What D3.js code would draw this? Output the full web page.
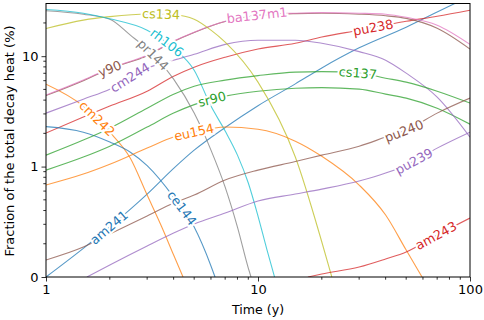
<!DOCTYPE html>
<html>
<head>
<meta charset="utf-8">
<script src="https://cdn.jsdelivr.net/npm/d3@7"></script>
<style>
  body { margin: 0; background: #fff; }
  svg { display: block; font-family: "DejaVu Sans", sans-serif; }
</style>
</head>
<body>
<svg id="chart" width="484" height="320"></svg>
<script>
// decay heat fraction (%) vs time (y)
var am241   = [[1,0],[1.5,0.259],[2,0.455],[3,0.751],[4,0.984],[5,1.41],[7,2.26],[10,3.56],[15,5.61],[20,7.83],[30,11.9],[50,18.3],[70,25.1],[100,35]];
var cm242   = [[1,5.58],[1.5,3.53],[2,2.05],[2.5,1.19],[3,0.742],[3.5,0.462],[4,0.199],[4.43,0]];
var sr90    = [[1,0.968],[1.5,1.22],[2,1.53],[3,2.28],[4,3.05],[5,3.64],[7,4.35],[10,4.82],[15,5.13],[20,5.19],[30,5.03],[40,4.53],[50,4.17],[70,3.38],[100,2.42]];
var pu238   = [[1,2.01],[1.5,2.81],[2,3.53],[3,4.82],[4,6.59],[5,7.95],[7,9.78],[10,11.6],[15,13.1],[20,14.9],[30,17.2],[40,19.1],[50,20.7],[70,23.0],[100,26.1]];
var cm244   = [[1,3.05],[1.5,4.08],[2,5.03],[3,7.79],[4,9.2],[5,10.4],[7,12.8],[10,13.96],[15,13.96],[20,13.1],[30,11.0],[40,9.2],[50,7.02],[70,4.26],[100,1.85]];
var y90     = [[1,4.4],[1.5,6.0],[2,7.7],[3,10.1],[4,13.6],[5,16.4],[7,20.6],[10,23.3],[15,24.3],[20,24.5],[30,24.0],[40,23.2],[50,22.0],[70,17.9],[100,11.6]];
var ba137m1 = [[1,4.44],[1.5,6.07],[2,7.79],[3,10.2],[4,13.7],[5,16.5],[7,20.7],[10,23.5],[15,24.5],[20,24.8],[30,24.5],[40,24.0],[50,22.5],[70,19.1],[100,12.8]];
var pr144   = [[1,25.8],[1.5,24.0],[2,21.6],[2.5,15.5],[3,11.6],[4,6.19],[5,3.05],[6,1.41],[7,0.814],[8,0.452],[9,0.081],[9.27,0]];
var cs134   = [[1,17.8],[1.5,21.2],[2,22.8],[3,24.1],[4,23.7],[5,21.6],[6,17.2],[7,13.4],[10,5.82],[15,1.22],[20,0.317],[22.3,0]];
var rh106   = [[1,26.5],[1.5,24.5],[2,21.8],[3,17.2],[4,11.8],[5,7.47],[6,3.53],[7,2.10],[8,1.27],[9,0.851],[10,0.552],[11,0.253],[11.97,0]];
var ce144   = [[1,2.30],[1.5,2.05],[2,1.67],[2.5,1.35],[3,1.02],[4,0.724],[5,0.452],[6,0.10],[6.27,0]];
var eu154   = [[1,0.833],[1.5,0.932],[2,1.05],[3,1.47],[4,1.85],[5,2.05],[7,2.28],[10,2.18],[15,1.70],[20,1.24],[30,0.833],[40,0.561],[50,0.244],[59.4,0]];
var cs137   = [[1,1.27],[1.5,1.74],[2,2.23],[3,3.38],[4,4.53],[5,5.35],[7,6.07],[10,6.66],[15,7.17],[20,7.24],[30,7.02],[40,6.32],[50,5.82],[70,4.82],[100,3.76]];
var am243   = [[17.2,0],[20,0.027],[30,0.09],[40,0.163],[50,0.226],[70,0.38],[100,0.534]];
var pu239   = [[1.56,0],[2,0.109],[3,0.281],[4,0.398],[5,0.48],[7,0.579],[10,0.688],[15,0.751],[20,0.796],[30,0.869],[40,0.941],[50,1.03],[70,1.47],[100,2.05]];
var pu240   = [[1,0.154],[1.5,0.271],[2,0.389],[3,0.552],[4,0.670],[5,0.742],[7,0.878],[10,0.968],[15,1.11],[20,1.27],[30,1.53],[40,1.85],[50,2.14],[70,3.05],[100,4.17]];

// names in plotting order (colour cycle follows this order)
var nuclides = ["am241","cm242","sr90","pu238","cm244","y90","ba137m1","pr144","cs134","rh106",
                "ce144","eu154","cs137","am243","pu239","pu240"];
var series = [am241,cm242,sr90,pu238,cm244,y90,ba137m1,pr144,cs134,rh106,ce144,eu154,cs137,am243,pu239,pu240];
// time (y) where each inline label sits
var labelTimes = [1.98,1.74,6.07,34.9,2.49,2.0,9.9,3.2,3.49,3.72,4.38,4.99,29.6,69.2,54.4,48.8];

var xTicks = [1,10,100];
var yTickLabels = ["0","1","10"];

(function(){
  var colors = d3.schemeCategory10;

  var svg = d3.select("#chart");
  var left = 46, right = 470, plotTop = 3.5, bottom = 277;

  var x = d3.scaleLog().domain([1,100]).range([left,right]);
  // y axis: linear between 0 and 1, logarithmic above
  var yLog = d3.scaleLog().domain([1,300]).range([bottom,plotTop]);
  function y(p){ return yLog(p < 1 ? Math.pow(10,p) : 10*p); }

  svg.append("clipPath").attr("id","clip")
    .append("rect").attr("x",left).attr("y",plotTop).attr("width",right-left).attr("height",bottom-plotTop);

  var line = d3.line()
    .x(function(d){ return x(d[0]); })
    .y(function(d){ return y(d[1]); })
    .curve(d3.curveMonotoneX);

  var lines = svg.append("g").attr("clip-path","url(#clip)");
  var paths = series.map(function(s,i){
    return lines.append("path")
      .datum(s)
      .attr("d",line)
      .attr("fill","none")
      .attr("stroke",colors[i%10])
      .attr("stroke-opacity",0.75)
      .attr("stroke-width",1.1);
  });

  // find point on a path at a given screen x
  function pointAtX(node, px){
    var lo = 0, hi = node.getTotalLength();
    for (var k=0;k<40;k++){
      var mid = (lo+hi)/2;
      if (node.getPointAtLength(mid).x < px) lo = mid; else hi = mid;
    }
    return node.getPointAtLength((lo+hi)/2);
  }

  var labels = svg.append("g");
  nuclides.forEach(function(n,i){
    var node = paths[i].node();
    var px = x(labelTimes[i]);
    var p = pointAtX(node,px);
    var a = pointAtX(node,px-3), b = pointAtX(node,px+3);
    var ang = Math.atan2(b.y-a.y, b.x-a.x)*180/Math.PI;
    labels.append("text")
      .attr("transform","translate("+p.x+","+p.y+") rotate("+ang+")")
      .attr("text-anchor","middle")
      .attr("dy","0.35em")
      .attr("font-size",12.8)
      .attr("fill",colors[i%10])
      .attr("stroke","#fff")
      .attr("stroke-width",4)
      .attr("paint-order","stroke")
      .text(n);
  });

  // axes
  var xAxis = d3.axisBottom(x)
    .tickValues(xTicks)
    .tickFormat(d3.format("d"))
    .tickSize(4.5).tickPadding(3);
  var gx = svg.append("g").attr("transform","translate(0,"+bottom+")").call(xAxis);
  var xMinor = [];
  [1,10].forEach(function(dec){ for (var k=2;k<10;k++) xMinor.push(dec*k); });
  gx.selectAll(".minor").data(xMinor).enter().append("line")
    .attr("x1",function(d){ return x(d); }).attr("x2",function(d){ return x(d); })
    .attr("y1",0).attr("y2",2.7).attr("stroke","#000").attr("stroke-width",0.8);

  var yMajor = [1,10,100];
  var yAxis = d3.axisLeft(yLog)
    .tickValues(yMajor)
    .tickFormat(function(d,i){ return yTickLabels[i]; })
    .tickSize(4.5).tickPadding(3);
  var gy = svg.append("g").attr("transform","translate("+left+",0)").call(yAxis);
  var yMinor = [];
  [1,10].forEach(function(dec){ for (var k=2;k<10;k++) yMinor.push(dec*k); });
  yMinor.push(200);
  gy.selectAll(".minor").data(yMinor).enter().append("line")
    .attr("y1",function(d){ return yLog(d); }).attr("y2",function(d){ return yLog(d); })
    .attr("x1",0).attr("x2",-2.7).attr("stroke","#000").attr("stroke-width",0.8);

  [gx,gy].forEach(function(g){
    g.select(".domain").remove();
    g.selectAll("text").attr("font-size",13).attr("font-family","DejaVu Sans").attr("fill","#000");
    g.selectAll(".tick line").attr("stroke-width",0.8);
  });

  svg.append("rect").attr("x",left).attr("y",plotTop).attr("width",right-left).attr("height",bottom-plotTop)
    .attr("fill","none").attr("stroke","#000").attr("stroke-width",1);

  svg.append("text").attr("x",(left+right)/2).attr("y",314)
    .attr("text-anchor","middle").attr("font-size",12.6).text("Time (y)");
  svg.append("text").attr("transform","translate(14,141) rotate(-90)")
    .attr("text-anchor","middle").attr("font-size",13).text("Fraction of the total decay heat (%)");
})();
</script>
</body>
</html>
